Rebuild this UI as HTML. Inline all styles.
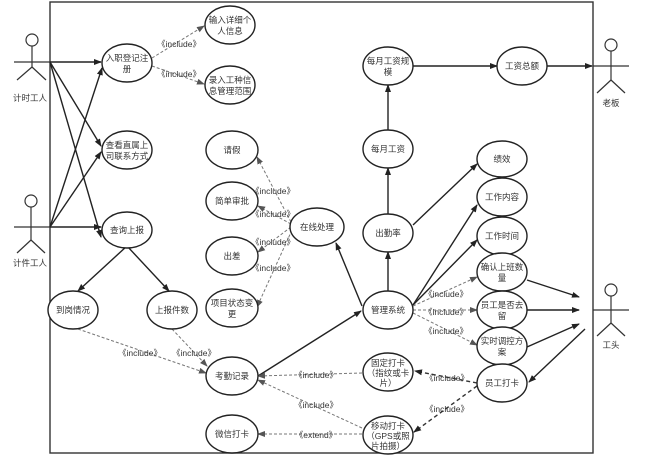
<!DOCTYPE html>
<html><head><meta charset="utf-8"><style>
html,body{margin:0;padding:0;background:#fff;}
svg{display:block;}
text{font-family:"Liberation Sans","Noto Sans CJK SC",sans-serif;font-size:8.5px;fill:#333;text-anchor:middle;}
.e{fill:#fff;stroke:#222;stroke-width:1.4;}
.s{stroke:#222;stroke-width:1.4;fill:none;}
.d{stroke:#777;stroke-width:1;stroke-dasharray:3,2;fill:none;}
.dd{stroke:#333;stroke-width:1.4;stroke-dasharray:4,3;fill:none;}
.a{stroke:#333;stroke-width:1.2;fill:none;}
</style></head><body>
<svg width="660" height="455" viewBox="0 0 660 455">
<defs>
<marker id="ar" markerWidth="8" markerHeight="8" refX="7" refY="4" orient="auto" markerUnits="userSpaceOnUse"><path d="M0,1 L8,4 L0,7 z" fill="#222"/></marker>
<marker id="ad" markerWidth="8" markerHeight="8" refX="7" refY="4" orient="auto" markerUnits="userSpaceOnUse"><path d="M0,1 L8,4 L0,7 z" fill="#555"/></marker>
</defs>
<rect x="50" y="2" width="543" height="451" fill="none" stroke="#333" stroke-width="1.4"/>

<!-- actors -->
<g class="a">
<circle cx="32" cy="40" r="6"/><line x1="32" y1="46" x2="32" y2="67"/><line x1="14" y1="62" x2="50" y2="62"/><line x1="32" y1="67" x2="17" y2="80"/><line x1="32" y1="67" x2="46" y2="80"/>
<circle cx="31" cy="201" r="6"/><line x1="31" y1="207" x2="31" y2="240"/><line x1="14" y1="227" x2="50" y2="227"/><line x1="31" y1="240" x2="17" y2="253"/><line x1="31" y1="240" x2="45" y2="253"/>
<circle cx="611" cy="45" r="6"/><line x1="611" y1="51" x2="611" y2="80"/><line x1="593" y1="66" x2="629" y2="66"/><line x1="611" y1="80" x2="597" y2="93"/><line x1="611" y1="80" x2="625" y2="93"/>
<circle cx="611" cy="290" r="6"/><line x1="611" y1="296" x2="611" y2="323"/><line x1="593" y1="310" x2="629" y2="310"/><line x1="611" y1="323" x2="597" y2="336"/><line x1="611" y1="323" x2="625" y2="336"/>
</g>
<text x="30" y="101">计时工人</text>
<text x="30" y="266">计件工人</text>
<text x="611" y="106">老板</text>
<text x="611" y="348">工头</text>

<!-- solid arrows -->
<g class="s" marker-end="url(#ar)">
<line x1="50" y1="62" x2="101" y2="62"/>
<line x1="50" y1="62" x2="101" y2="146"/>
<line x1="50" y1="62" x2="101" y2="237"/>
<line x1="50" y1="227" x2="102" y2="68"/>
<line x1="50" y1="227" x2="101" y2="152"/>
<line x1="50" y1="227" x2="101" y2="227"/>
<line x1="127" y1="246" x2="78" y2="291"/>
<line x1="127" y1="246" x2="169" y2="291"/>
<line x1="388" y1="291" x2="388" y2="252"/>
<line x1="388" y1="214" x2="388" y2="168"/>
<line x1="388" y1="130" x2="388" y2="85"/>
<line x1="413" y1="66" x2="497" y2="66"/>
<line x1="547" y1="66" x2="592" y2="66"/>
<line x1="413" y1="225" x2="477" y2="164"/>
<line x1="413" y1="305" x2="477" y2="205"/>
<line x1="413" y1="305" x2="477" y2="240"/>
<line x1="527" y1="280" x2="579" y2="297"/>
<line x1="527" y1="310" x2="579" y2="310"/>
<line x1="527" y1="347" x2="579" y2="324"/>
<line x1="585" y1="329" x2="529" y2="382"/>
<line x1="362" y1="306" x2="336" y2="243"/>
<line x1="258" y1="376" x2="361" y2="311"/>
</g>

<!-- dashed -->
<g class="d" marker-end="url(#ad)">
<line x1="152" y1="58" x2="204" y2="26"/>
<line x1="152" y1="66" x2="204" y2="84"/>
<line x1="291" y1="222" x2="257" y2="157"/>
<line x1="291" y1="224" x2="258" y2="206"/>
<line x1="291" y1="227" x2="258" y2="252"/>
<line x1="292" y1="230" x2="257" y2="307"/>
<line x1="78" y1="329" x2="206" y2="373"/>
<line x1="172" y1="329" x2="207" y2="366"/>
<line x1="362" y1="373" x2="258" y2="376"/>
<line x1="362" y1="428" x2="258" y2="380"/>
<line x1="362" y1="434" x2="258" y2="434"/>
<line x1="413" y1="306" x2="477" y2="277"/>
<line x1="413" y1="310" x2="477" y2="310"/>
<line x1="413" y1="313" x2="477" y2="345"/>
</g>
<g class="dd" marker-end="url(#ar)">
<line x1="477" y1="383" x2="415" y2="371"/>
<line x1="477" y1="386" x2="414" y2="432"/>
</g>

<!-- ellipses -->
<g class="e">
<ellipse cx="127" cy="63" rx="25" ry="19"/>
<ellipse cx="230" cy="25" rx="25" ry="19"/>
<ellipse cx="230" cy="85" rx="25" ry="19"/>
<ellipse cx="127" cy="150" rx="25" ry="19"/>
<ellipse cx="127" cy="230" rx="25" ry="18"/>
<ellipse cx="232" cy="150" rx="26" ry="19"/>
<ellipse cx="232" cy="201" rx="26" ry="19"/>
<ellipse cx="232" cy="256" rx="26" ry="19"/>
<ellipse cx="232" cy="308" rx="26" ry="19"/>
<ellipse cx="317" cy="227" rx="27" ry="19"/>
<ellipse cx="73" cy="310" rx="25" ry="19"/>
<ellipse cx="172" cy="310" rx="25" ry="19"/>
<ellipse cx="232" cy="376" rx="26" ry="19"/>
<ellipse cx="232" cy="434" rx="26" ry="19"/>
<ellipse cx="388" cy="66" rx="25" ry="19"/>
<ellipse cx="522" cy="66" rx="25" ry="19"/>
<ellipse cx="388" cy="149" rx="25" ry="19"/>
<ellipse cx="388" cy="233" rx="25" ry="19"/>
<ellipse cx="388" cy="310" rx="25" ry="19"/>
<ellipse cx="388" cy="372" rx="25" ry="19"/>
<ellipse cx="388" cy="435" rx="25" ry="19"/>
<ellipse cx="502" cy="159" rx="25" ry="18"/>
<ellipse cx="502" cy="197" rx="25" ry="19"/>
<ellipse cx="502" cy="236" rx="25" ry="19"/>
<ellipse cx="502" cy="272" rx="25" ry="19"/>
<ellipse cx="502" cy="310" rx="25" ry="19"/>
<ellipse cx="502" cy="346" rx="25" ry="19"/>
<ellipse cx="502" cy="383" rx="25" ry="19"/>
</g>

<!-- labels -->
<text x="127" y="61">入职登记注</text><text x="127" y="72">册</text>
<text x="230" y="23">输入详细个</text><text x="230" y="34">人信息</text>
<text x="230" y="83">录入工种信</text><text x="230" y="94">息管理范围</text>
<text x="127" y="148">查看直属上</text><text x="127" y="159">司联系方式</text>
<text x="127" y="233">查询上报</text>
<text x="232" y="153">请假</text>
<text x="232" y="204">简单审批</text>
<text x="232" y="259">出差</text>
<text x="232" y="306">项目状态变</text><text x="232" y="317">更</text>
<text x="317" y="230">在线处理</text>
<text x="73" y="313">到岗情况</text>
<text x="172" y="313">上报件数</text>
<text x="232" y="379">考勤记录</text>
<text x="232" y="437">微信打卡</text>
<text x="388" y="64">每月工资规</text><text x="388" y="75">模</text>
<text x="522" y="69">工资总额</text>
<text x="388" y="152">每月工资</text>
<text x="388" y="236">出勤率</text>
<text x="388" y="313">管理系统</text>
<text x="388" y="366">固定打卡</text><text x="388" y="376">（指纹或卡</text><text x="388" y="386">片）</text>
<text x="388" y="429">移动打卡</text><text x="388" y="439">（GPS或照</text><text x="388" y="449">片拍摄）</text>
<text x="502" y="162">绩效</text>
<text x="502" y="200">工作内容</text>
<text x="502" y="239">工作时间</text>
<text x="502" y="270">确认上班数</text><text x="502" y="281">量</text>
<text x="502" y="308">员工是否去</text><text x="502" y="319">留</text>
<text x="502" y="344">实时调控方</text><text x="502" y="355">案</text>
<text x="502" y="386">员工打卡</text>

<!-- include labels -->
<g>
<text x="179" y="47">《include》</text>
<text x="179" y="77">《include》</text>
<text x="273" y="194">《include》</text>
<text x="273" y="217">《include》</text>
<text x="273" y="245">《include》</text>
<text x="273" y="271">《include》</text>
<text x="140" y="356">《include》</text>
<text x="194" y="356">《include》</text>
<text x="316" y="378">《include》</text>
<text x="316" y="408">《include》</text>
<text x="316" y="438">《extend》</text>
<text x="446" y="297">《include》</text>
<text x="446" y="315">《include》</text>
<text x="446" y="334">《include》</text>
<text x="447" y="381">《include》</text>
<text x="447" y="412">《include》</text>
</g>
</svg>
</body></html>
